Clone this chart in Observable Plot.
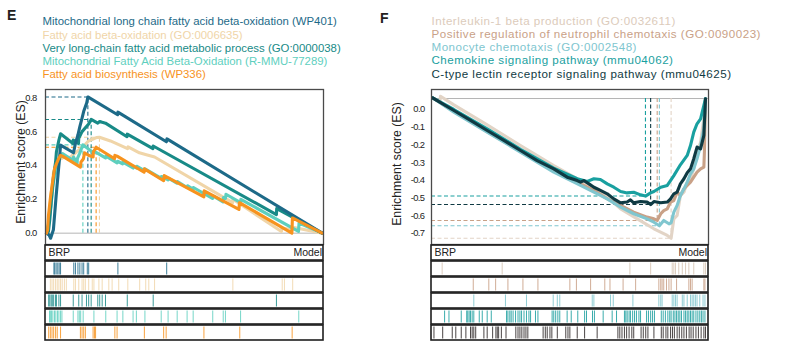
<!DOCTYPE html>
<html><head><meta charset="utf-8">
<script src="https://cdn.jsdelivr.net/npm/d3@7"></script>
<script src="https://cdn.jsdelivr.net/npm/@observablehq/plot@0.6"></script>
<style>
html,body{margin:0;padding:0;background:#fff;}
#root{position:relative;width:793px;height:345px;overflow:hidden;font-family:"Liberation Sans",Arial,sans-serif;}
.lbl{position:absolute;font-weight:bold;font-size:14px;line-height:14px;color:#231f20;}
.leg{position:absolute;font-size:11.4px;line-height:13.3px;white-space:nowrap;}
.legF{position:absolute;font-size:11.6px;line-height:13.3px;letter-spacing:0.5px;white-space:nowrap;}
.ytitle{position:absolute;width:200px;text-align:center;font-size:12.3px;line-height:14px;color:#222;transform:rotate(-90deg);white-space:nowrap;}
.p{position:absolute;}
svg g[aria-label="y-axis tick label"] text{letter-spacing:-0.6px;}
</style></head><body><div id="root"></div>
<script>
// ---------- Panel E data ----------
const setsE = ["Mitochondrial long chain fatty acid beta-oxidation (WP401)", "Fatty acid beta-oxidation (GO:0006635)", "Very long-chain fatty acid metabolic process (GO:0000038)", "Mitochondrial Fatty Acid Beta-Oxidation (R-MMU-77289)", "Fatty acid biosynthesis (WP336)"];
const colorsE = ["#1d6a88", "#f0d5a8", "#188a87", "#5ecfbe", "#f7931e"];
const yTicksE = [0, 0.2, 0.4, 0.6, 0.8];

const rankE0 = [0,9,15,25,30,35,41,46,51,98,105,114,121,129,135,146,150,258,259,435,437,1000];
const esE0   = [0,-0.01,-0.03,0.02,0.12,0.22,0.33,0.42,0.52,0.475,0.53,0.58,0.63,0.68,0.72,0.77,0.805,0.70,0.715,0.54,0.557,0];
const rankE1 = [0,7,15,25,36,51,65,80,94,109,123,138,152,167,181,192,232,294,296,337,359,392,675,676,852,854,892,894,1000];
const esE1   = [0,0.05,0.2,0.35,0.42,0.44,0.45,0.44,0.46,0.48,0.5,0.52,0.545,0.555,0.565,0.567,0.545,0.5,0.51,0.475,0.465,0.45,0.18,0.2,0.01,0.03,0.02,0.035,0];
const rankE2 = [0,7,12,17,21,26,33,36,45,51,96,97,116,117,129,145,153,162,186,193,202,214,292,293,386,387,834,835,1000];
const esE2   = [0,0.01,0.08,0.18,0.26,0.34,0.42,0.48,0.55,0.587,0.53,0.55,0.53,0.56,0.6,0.63,0.645,0.672,0.65,0.66,0.655,0.65,0.57,0.585,0.5,0.515,0.11,0.145,0];
const rankE3 = [0,7,15,25,36,47,58,96,98,111,112,120,127,132,170,172,214,216,256,258,276,277,314,316,326,328,355,357,415,417,441,442,473,475,510,512,531,533,602,604,640,642,649,651,704,705,914,916,1000];
const esE3   = [0,0.05,0.15,0.3,0.38,0.44,0.47,0.43,0.45,0.41,0.44,0.47,0.5,0.522,0.475,0.485,0.445,0.455,0.415,0.425,0.41,0.42,0.385,0.395,0.385,0.395,0.37,0.38,0.325,0.335,0.315,0.325,0.295,0.305,0.27,0.28,0.26,0.27,0.205,0.22,0.185,0.21,0.205,0.23,0.18,0.2,0.01,0.06,0];
const rankE4 = [0,4,7,15,22,29,36,44,51,58,123,125,134,138,152,169,170,180,247,248,256,354,355,425,427,571,572,698,700,890,892,1000];
const esE4   = [0,0.02,0.1,0.22,0.3,0.38,0.41,0.44,0.46,0.455,0.39,0.42,0.44,0.475,0.46,0.45,0.48,0.508,0.44,0.46,0.455,0.36,0.38,0.31,0.34,0.215,0.25,0.14,0.18,0,0.09,0];

const peakRankE = [150, 192, 162, 132, 180];
const peakESE   = [0.805, 0.567, 0.672, 0.522, 0.508];

const hitsE0 = [27,30,35,41,46,51,99,105,114,121,129,135,148,153,259,436];
const hitsE1 = [14,20,26,33,39,45,51,57,65,72,99,105,117,129,135,141,153,166,172,190,202,226,238,262,295,338,360,371,392,676,855,863,893];
const hitsE2 = [8,12,17,21,26,33,36,45,51,97,117,129,145,153,162,186,193,202,214,293,387,834];
const hitsE3 = [11,14,18,23,29,34,40,45,51,56,97,114,119,124,133,172,215,256,277,314,326,357,416,441,474,510,532,603,641,649,704,915];
const hitsE4 = [8,14,20,26,33,39,51,123,129,135,141,169,174,178,248,256,355,425,434,571,701,891];

// ---------- Panel F data ----------
const setsF = ["Interleukin-1  beta production (GO:0032611)", "Positive regulation of neutrophil chemotaxis (GO:0090023)", "Monocyte chemotaxis (GO:0002548)", "Chemokine signaling pathway (mmu04062)", "C-type lectin receptor signaling pathway (mmu04625)"];
const colorsF = ["#e2d4c6", "#c9a187", "#80c6cf", "#19a0a0", "#0f3a43"];
const legendColorsF = ["#dccbbb", "#c9a187", "#80c6cf", "#19a0a0", "#0f3a43"];
const barColorsF = ["#d6c3b2", "#c89e84", "#7cc4cd", "#1a9e9e", "#2a2424"];
const yTicksF = [0, -0.1, -0.2, -0.3, -0.4, -0.5, -0.6, -0.7];
const refESF = 0.062;

const rankF0 = [0,27,29,78,200,322,444,542,591,640,689,750,811,860,874,884,896,908,921,933,945,957,969,982,994,1000];
const esF0   = [0.066,0.042,0.075,0.026,-0.087,-0.204,-0.317,-0.402,-0.449,-0.496,-0.562,-0.619,-0.675,-0.713,-0.729,-0.619,-0.600,-0.487,-0.468,-0.411,-0.392,-0.336,-0.241,-0.185,-0.053,0.060];
const rankF1 = [0,78,200,322,444,542,591,640,689,737,786,811,823,836,847,860,872,884,896,908,921,933,945,957,969,982,994,996,1000];
const esF1   = [0.066,-0.011,-0.125,-0.238,-0.345,-0.421,-0.458,-0.506,-0.543,-0.581,-0.609,-0.619,-0.628,-0.590,-0.572,-0.562,-0.524,-0.515,-0.468,-0.487,-0.449,-0.430,-0.411,-0.383,-0.355,-0.336,-0.326,-0.241,0.060];
const rankF2 = [0,78,200,322,444,542,591,640,689,737,786,811,831,847,866,874,884,896,908,921,933,945,957,969,982,994,1000];
const esF2   = [0.066,-0.015,-0.128,-0.241,-0.355,-0.430,-0.468,-0.506,-0.553,-0.590,-0.619,-0.638,-0.658,-0.628,-0.647,-0.641,-0.581,-0.543,-0.487,-0.449,-0.411,-0.364,-0.336,-0.279,-0.204,-0.109,0.060];
const rankF3 = [0,78,200,322,444,530,567,591,615,640,664,689,713,737,762,780,799,811,836,860,884,908,933,945,957,969,982,994,1000];
const esF3   = [0.066,0,-0.109,-0.226,-0.332,-0.392,-0.407,-0.392,-0.396,-0.421,-0.440,-0.464,-0.472,-0.468,-0.483,-0.490,-0.472,-0.464,-0.440,-0.430,-0.374,-0.313,-0.260,-0.204,-0.128,-0.081,-0.053,0.023,0.060];
const rankF4 = [0,78,139,200,261,322,383,444,493,530,542,554,573,591,615,640,664,689,713,725,737,762,786,799,811,836,860,872,884,896,908,921,933,945,957,969,982,994,1000];
const esF4   = [0.066,-0.006,-0.062,-0.119,-0.175,-0.232,-0.289,-0.336,-0.383,-0.402,-0.411,-0.402,-0.421,-0.440,-0.458,-0.477,-0.506,-0.528,-0.524,-0.511,-0.528,-0.521,-0.524,-0.538,-0.521,-0.528,-0.524,-0.506,-0.477,-0.468,-0.421,-0.392,-0.358,-0.336,-0.279,-0.213,-0.223,-0.147,0.060];

const peakRankF = [874, 823, 831, 780, 799];
const peakESF   = [-0.729, -0.628, -0.658, -0.490, -0.538];

const hitsF0 = [35,255,723,799,878,884,890,902,915,927,939,957,994,1000];
const hitsF1 = [149,206,231,276,331,386,503,527,579,631,650,698,744,829,836,841,847,857,866,874,894,939,945,951,994,998];
const hitsF2 = [151,267,344,442,457,466,585,591,652,662,734,829,836,841,878,884,890,896,915,921,933,945,951,957,963,969,979,991,998];
const hitsF3 = [44,60,105,125,129,134,139,145,151,171,182,200,215,271,276,283,288,295,304,313,320,326,335,344,353,359,377,386,438,444,451,459,466,493,508,532,557,564,586,593,625,658,674,703,708,713,720,725,733,740,747,756,762,784,791,799,806,813,838,845,853,862,869,874,882,888,894,900,906,912,921,927,933,939,945,951,957,965,972,979,985,991,998];
const hitsF4 = [5,37,72,85,105,122,139,145,151,158,188,200,220,232,237,242,252,269,305,313,320,327,335,342,349,405,413,420,430,437,457,488,496,503,530,557,603,679,686,694,703,711,720,730,737,764,772,781,789,811,838,845,855,862,872,879,886,896,904,913,921,930,940,947,955,965,974,984,994,1000];

// ---------- drawing ----------
const root = document.getElementById("root");
function put(el, left, top, cls) {
  if (cls) el.classList.add(cls);
  el.style.position = "absolute";
  el.style.left = left + "px"; el.style.top = top + "px";
  root.appendChild(el);
  return el;
}
function div(text, cls, left, top, color) {
  const d = document.createElement("div");
  d.textContent = text;
  if (color) d.style.color = color;
  return put(d, left, top, cls);
}
const zip = (r, e) => r.map((x, i) => ({rank: x, es: e[i]}));

function esChart(cfg) {
  const pk = cfg.peakRank.map((r, i) => ({rank: r, es: cfg.peakES[i], color: cfg.colors[i]}));
  const lines = cfg.order.map(i => Plot.line(zip(cfg.ranks[i], cfg.es[i]), {x: "rank", y: "es", stroke: cfg.colors[i], strokeWidth: 3.1}));
  return Plot.plot({
    width: cfg.width, height: 162,
    marginLeft: cfg.ml, marginRight: cfg.mr, marginTop: 4, marginBottom: 3,
    x: {domain: cfg.xDom, axis: null},
    y: {domain: cfg.yDom, axis: null},
    color: {type: "identity"},
    style: {background: "transparent", overflow: "visible", color: "#222", fontFamily: "Liberation Sans, Arial, sans-serif"},
    marks: [
      Plot.ruleY([cfg.ref], {stroke: "#b5b5b5", strokeWidth: 1}),
      Plot.ruleY(pk, {y: "es", x1: () => cfg.xDom[0], x2: "rank", stroke: "color", strokeWidth: 1.1, strokeDasharray: "4,2.5"}),
      Plot.ruleX(pk, {x: "rank", y1: () => cfg.ref, y2: "es", stroke: "color", strokeWidth: 1.1, strokeDasharray: "4,2.5"}),
      ...lines,
      Plot.axisY(cfg.ticks, {tickSize: 0, tickPadding: cfg.tp, tickFormat: d => d.toFixed(1), label: null, fontSize: 9.4}),
      Plot.frame({stroke: "#4a4a4a", strokeWidth: 1.3})
    ]
  });
}

function barcodeChart(cfg) {
  const rows = ["hdr", ...cfg.sets];
  const hits = cfg.sets.flatMap((s, i) => cfg.hits[i].map(r => ({rank: r, set: s, color: cfg.barColors[i]})));
  return Plot.plot({
    width: cfg.width, height: 100,
    marginLeft: cfg.ml, marginRight: cfg.mr, marginTop: 1.5, marginBottom: 2,
    x: {domain: cfg.xDom, axis: null},
    y: {domain: rows, axis: null, paddingInner: 0.06, paddingOuter: 0},
    color: {type: "identity"},
    style: {background: "transparent", overflow: "visible", color: "#222", fontFamily: "Liberation Sans, Arial, sans-serif"},
    marks: [
      Plot.ruleX(hits, {x: "rank", y1: "set", y2: "set", stroke: "color", strokeWidth: 1, strokeOpacity: 0.85, insetTop: 1.5, insetBottom: 1.5}),
      Plot.barX(rows, {y: d => d, x1: () => cfg.xDom[0], x2: () => cfg.xDom[1], fill: "none", stroke: "#1e1e1e", strokeWidth: 1.6}),
      Plot.text(["BRP"], {y: () => "hdr", frameAnchor: "left", textAnchor: "start", dx: 3, text: d => d, fontSize: 10.5, fill: "#222"}),
      Plot.text(["Model"], {y: () => "hdr", frameAnchor: "right", textAnchor: "end", dx: -1.5, text: d => d, fontSize: 10.5, fill: "#222"})
    ]
  });
}

// Panel E
const xDomE = [-3.6, 1004.7];
div("E", "lbl", 7, 8);
setsE.forEach((s, i) => div(s, "leg", 42.5, 15.2 + 13.3 * i, colorsE[i]));
put(esChart({width: 330, ml: 45, mr: 7, xDom: xDomE, yDom: [-0.067, 0.849], ticks: yTicksE, tp: 9, ref: 0,
  colors: colorsE, ranks: [rankE0, rankE1, rankE2, rankE3, rankE4], es: [esE0, esE1, esE2, esE3, esE4],
  order: [1, 3, 2, 0, 4], peakRank: peakRankE, peakES: peakESE}), 0, 85, "p");
div("Enrichment score (ES)", "ytitle", 21 - 100, 161.5 - 7);
put(barcodeChart({width: 330, ml: 45, mr: 7, xDom: xDomE, sets: setsE,
  hits: [hitsE0, hitsE1, hitsE2, hitsE3, hitsE4], barColors: colorsE}), 0, 243, "p");

// Panel F
const xDomF = [-4, 1011];
div("F", "lbl", 380, 11);
setsF.forEach((s, i) => div(s, "legF", 431.5, 13.5 + 13.3 * i, legendColorsF[i]));
put(esChart({width: 320, ml: 36, mr: 7, xDom: xDomF, yDom: [-0.764, 0.113], ticks: yTicksF, tp: 7, ref: refESF,
  colors: colorsF, ranks: [rankF0, rankF1, rankF2, rankF3, rankF4], es: [esF0, esF1, esF2, esF3, esF4],
  order: [0, 1, 2, 3, 4], peakRank: peakRankF, peakES: peakESF}), 395, 85, "p");
div("Enrichment score (ES)", "ytitle", 397 - 100, 164 - 7);
put(barcodeChart({width: 320, ml: 36, mr: 7, xDom: xDomF, sets: setsF,
  hits: [hitsF0, hitsF1, hitsF2, hitsF3, hitsF4], barColors: barColorsF}), 395, 243, "p");
</script></body></html>
